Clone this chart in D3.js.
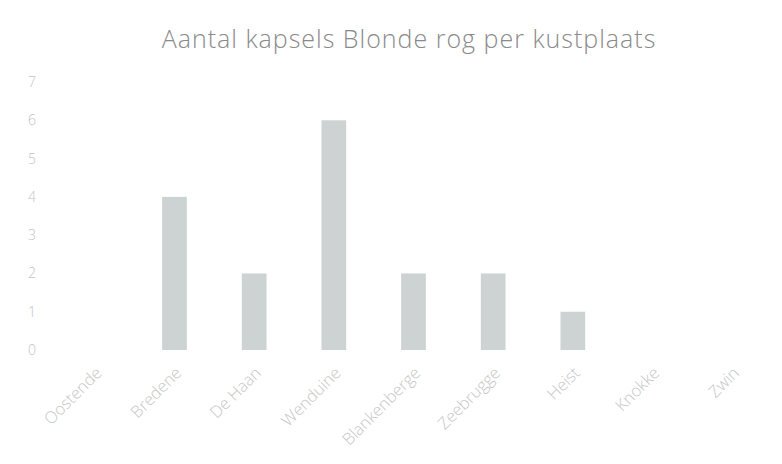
<!DOCTYPE html>
<html>
<head>
<meta charset="utf-8">
<script src="https://cdn.jsdelivr.net/npm/d3@7"></script>
<style>
  html, body { margin: 0; padding: 0; background: #fff; }
  svg { display: block; }
  text { font-family: "Open Sans", Lato, sans-serif; }
</style>
</head>
<body>
<svg id="chart" width="782" height="464"></svg>
<script>
// Kustplaatsen van west naar oost
const places = ["Oostende", "Bredene", "De Haan", "Wenduine", "Blankenberge", "Zeebrugge", "Heist", "Knokke", "Zwin"];
// Aantal gevonden kapsels per plaats
const counts = [0, 4, 2, 6, 2, 2, 1, 0, 0];
// Waarden op de y-as
const yTicks = [0, 1, 2, 3, 4, 5, 6, 7];
const title = "Aantal kapsels Blonde rog per kustplaats";

const svg = d3.select("#chart");

const x = d3.scaleBand()
  .domain(places)
  .range([55, 772])
  .paddingInner(0.69)
  .paddingOuter(0.345);

const y = d3.scaleLinear()
  .domain([0, 7])
  .range([350, 82]);

// Titel
svg.append("text")
  .attr("x", 409)
  .attr("y", 48)
  .attr("text-anchor", "middle")
  .attr("font-size", 25)
  .attr("font-weight", 300)
  .attr("letter-spacing", 1)
  .attr("fill", "#8a8a8a")
  .text(title);

// y-as (alleen labels)
const yAxis = svg.append("g")
  .attr("transform", "translate(40,0)")
  .call(d3.axisLeft(y).tickValues(yTicks).tickFormat(d3.format("d")).tickSize(0).tickPadding(4));
yAxis.select(".domain").remove();
yAxis.selectAll("text")
  .attr("font-size", 14)
  .attr("font-family", "'Open Sans', sans-serif")
  .attr("font-weight", 300)
  .attr("fill", "#c4c4c4");

// Staven
svg.append("g")
  .selectAll("rect")
  .data(places.map((p, i) => ({ place: p, value: counts[i] })))
  .join("rect")
  .attr("x", d => x(d.place))
  .attr("y", d => y(d.value))
  .attr("width", x.bandwidth())
  .attr("height", d => y(0) - y(d.value))
  .attr("fill", "#cdd3d2");

// x-as labels, schuin gedraaid
const xAxis = svg.append("g")
  .attr("transform", "translate(0,350)")
  .call(d3.axisBottom(x).tickSize(0).tickPadding(0));
xAxis.select(".domain").remove();
xAxis.selectAll("text")
  .attr("font-size", 16.5)
  .attr("font-family", "'Open Sans', sans-serif")
  .attr("font-weight", 300)
  .attr("fill", "#c6c6c6")
  .attr("text-anchor", "end")
  .attr("y", 0)
  .attr("dy", 0)
  .attr("transform", "translate(8,24) rotate(-45)");
</script>
</body>
</html>
